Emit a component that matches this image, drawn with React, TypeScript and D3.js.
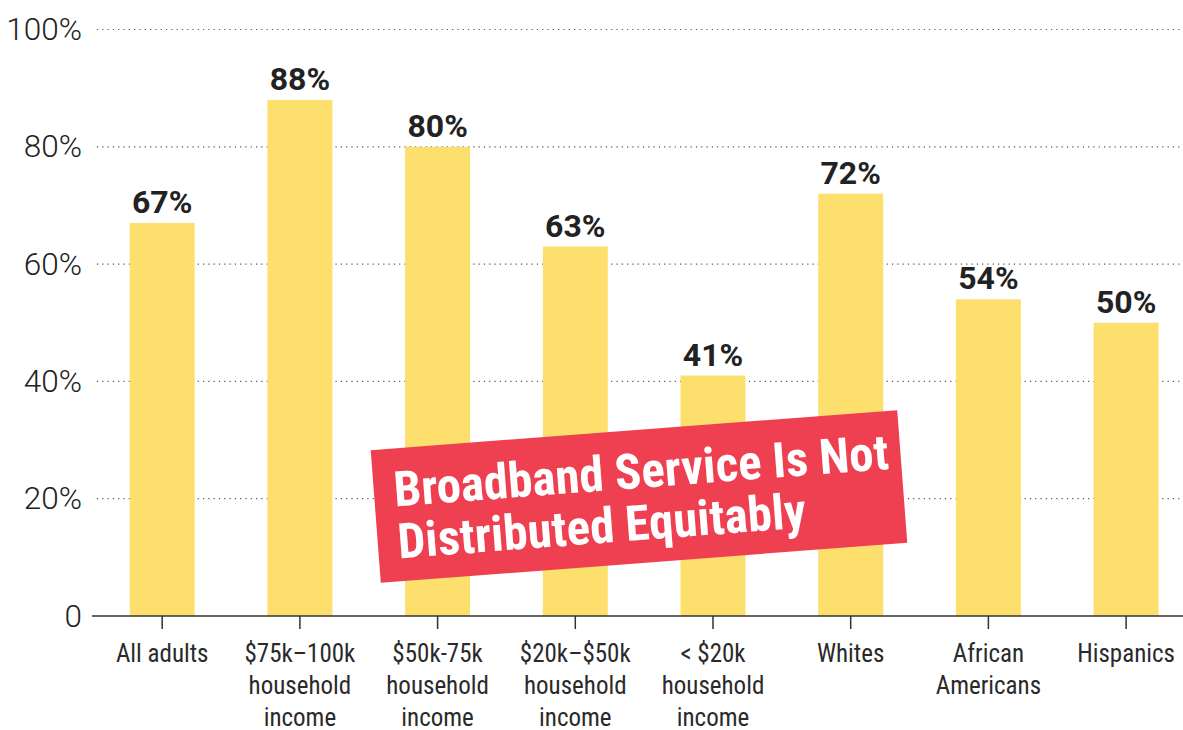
import React from "react";
import * as d3 from "d3";

const categories: string[][] = [
  ["All adults"],
  ["$75k–100k", "household", "income"],
  ["$50k-75k", "household", "income"],
  ["$20k–$50k", "household", "income"],
  ["< $20k", "household", "income"],
  ["Whites"],
  ["African", "Americans"],
  ["Hispanics"],
];
const values: number[] = [67, 88, 80, 63, 41, 72, 54, 50];
const valueLabels: string[] = ["67%", "88%", "80%", "63%", "41%", "72%", "54%", "50%"];
const yTicks: number[] = [0, 20, 40, 60, 80, 100];
const yTickLabels: string[] = ["0", "20%", "40%", "60%", "80%", "100%"];
const bannerLines: string[] = ["Broadband Service Is Not", "Distributed Equitably"];

const W = 1183;
const H = 730;
const NARROW = "'Liberation Sans Narrow', 'Roboto Condensed', Roboto, sans-serif";
const WIDE = "Roboto, 'Liberation Sans', sans-serif";

export default function App() {
  const keys = categories.map((c) => c.join(" "));
  const x = d3.scaleBand<string>().domain(keys).range([93.35, 1194.95]).paddingInner(0.528).paddingOuter(0.264);
  const y = d3.scaleLinear().domain([0, 100]).range([616, 29.5]);
  const bw = x.bandwidth();

  // banner geometry
  const bx = 639, by = 496.5, bW = 528, bH = 133, ang = -4.35;

  return (
    <svg width={W} height={H} style={{ position: "absolute", left: 0, top: 0, background: "#fff" }} fontFamily={NARROW}>
      {yTicks.filter((t) => t > 0).map((t) => (
        <line key={t} x1={97} x2={W} y1={y(t)} y2={y(t)} stroke="#555" strokeWidth={1.2} strokeDasharray="1.2 4.1" />
      ))}
      {yTicks.map((t, i) => (
        <text key={t} x={82} y={y(t) + 10.5} textAnchor="end" fontSize={31.5} fill="#222" fontWeight={300} fontFamily={WIDE}>
          {yTickLabels[i]}
        </text>
      ))}
      {keys.map((k, i) => (
        <g key={k}>
          <rect x={x(k)} y={y(values[i])} width={bw} height={y(0) - y(values[i])} fill="#FDDF6D" />
          <text x={(x(k) as number) + bw / 2} y={y(values[i]) - 10} textAnchor="middle" fontSize={32} fontWeight={700} fill="#222" fontFamily={WIDE}>
            {valueLabels[i]}
          </text>
          <line x1={(x(k) as number) + bw / 2} x2={(x(k) as number) + bw / 2} y1={616} y2={629} stroke="#333" strokeWidth={1.5} />
          <text textAnchor="middle" fontSize={25} fill="#2a2a2a">
            {categories[i].map((ln, j) => (
              <tspan key={j} x={(x(k) as number) + bw / 2} y={661.5 + j * 32}>{ln}</tspan>
            ))}
          </text>
        </g>
      ))}
      <line x1={92} x2={W} y1={616} y2={616} stroke="#333" strokeWidth={1.5} />
      <g transform={`translate(${bx},${by}) rotate(${ang})`}>
        <rect x={-bW / 2} y={-bH / 2} width={bW} height={bH} fill="#EE4050" />
        {bannerLines.map((ln, j) => (
          <text key={j} x={-bW / 2 + 20} y={-bH / 2 + 58 + j * 52} fontSize={49} fontWeight={700} fill="#fff">
            {ln}
          </text>
        ))}
      </g>
    </svg>
  );
}
